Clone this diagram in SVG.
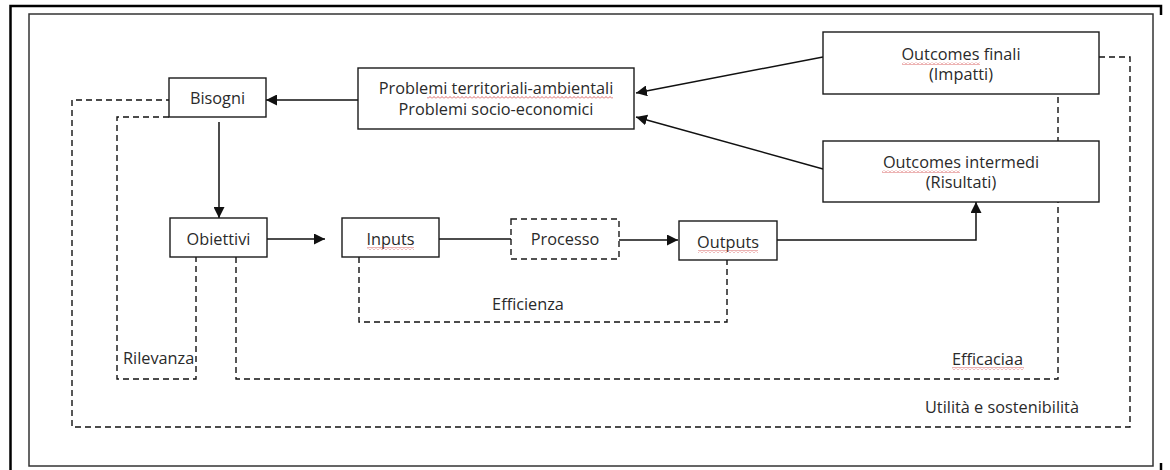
<svg xmlns="http://www.w3.org/2000/svg" width="1170" height="470" viewBox="0 0 1170 470">
<style>
.box{fill:#fff;stroke:#1a1a1a;stroke-width:1.4}
.dbox{fill:#fff;stroke:#1a1a1a;stroke-width:1.4;stroke-dasharray:6 4}
.ln{fill:none;stroke:#111;stroke-width:1.5}
.dl{fill:none;stroke:#111;stroke-width:1.4;stroke-dasharray:6 4}
text{font-family:"Open Sans","Liberation Sans",sans-serif;font-size:16.3px;fill:#2a2a2a}
.c{text-anchor:middle}
.sq{fill:url(#squig)}
</style>
<defs>
<marker id="ah" viewBox="0 0 10 10" refX="10" refY="5" markerWidth="11" markerHeight="11" markerUnits="userSpaceOnUse" orient="auto">
<path d="M0,0 L10,5 L0,10 z" fill="#111"/>
</marker>
<pattern id="squig" patternUnits="userSpaceOnUse" width="4" height="3">
<path d="M0,2.5 L2,0.5 L4,2.5" fill="none" stroke="#d04040" stroke-width="0.8"/>
</pattern>
</defs>
<rect width="1170" height="470" fill="#fff"/>
<g id="frame">
<path d="M10.5,470 V6 H1161 V15" fill="none" stroke="#000" stroke-width="2.5"/>
<path d="M1161,463 V470" fill="none" stroke="#000" stroke-width="2.5"/>
<rect x="29" y="14" width="1124" height="452" fill="none" stroke="#333" stroke-width="1.5"/>
</g>
<g id="connectors">
<path class="ln" d="M358,100 H266" marker-end="url(#ah)"/>
<path class="ln" d="M219,122 V218" marker-end="url(#ah)"/>
<path class="ln" d="M267,239 H325" marker-end="url(#ah)"/>
<path class="ln" d="M439,239 H511"/>
<path class="ln" d="M619,240 H678" marker-end="url(#ah)"/>
<path class="ln" d="M777,240 H976 V202" marker-end="url(#ah)"/>
<path class="ln" d="M823,57 L636,93" marker-end="url(#ah)"/>
<path class="ln" d="M823,169 L636,117" marker-end="url(#ah)"/>
<path class="dl" d="M1099,57 H1130 V427 H72 V100 H169"/>
<path class="dl" d="M169,117 H117 V379 H196 V257"/>
<path class="dl" d="M236,257 V379 H1058 V94"/>
<path class="dl" d="M359,257 V322 H727 V260"/>
</g>
<g id="bisogni">
<rect class="box" x="169" y="78" width="97" height="39"/>
<text class="c" x="217.5" y="104">Bisogni</text>
</g>
<g id="problemi">
<rect class="box" x="358" y="68" width="276" height="61"/>
<text class="c" x="496" y="94">Problemi territoriali-ambientali</text>
<text class="c" x="496" y="115">Problemi socio-economici</text>
<rect class="sq" x="427" y="96" width="186" height="3"/>
</g>
<g id="outcomes-finali">
<rect class="box" x="823" y="32" width="276" height="62"/>
<text class="c" x="961" y="60">Outcomes finali</text>
<text class="c" x="961" y="80">(Impatti)</text>
<rect class="sq" x="902" y="62" width="78" height="3"/>
</g>
<g id="outcomes-intermedi">
<rect class="box" x="823" y="141" width="276" height="61"/>
<text class="c" x="961" y="168">Outcomes intermedi</text>
<text class="c" x="961" y="188">(Risultati)</text>
<rect class="sq" x="882" y="170" width="78" height="3"/>
</g>
<g id="obiettivi">
<rect class="box" x="170" y="218" width="97" height="39"/>
<text class="c" x="218.5" y="245">Obiettivi</text>
</g>
<g id="inputs">
<rect class="box" x="342" y="218" width="97" height="39"/>
<text class="c" x="390.5" y="245">Inputs</text>
<rect class="sq" x="367" y="247" width="47" height="3"/>
</g>
<g id="processo">
<rect class="dbox" x="511" y="219" width="108" height="40"/>
<text class="c" x="565" y="245">Processo</text>
</g>
<g id="outputs">
<rect class="box" x="679" y="221" width="98" height="39"/>
<text class="c" x="728" y="248">Outputs</text>
<rect class="sq" x="698" y="250" width="60" height="3"/>
</g>
<g id="labels">
<text class="c" x="528" y="310">Efficienza</text>
<text x="123" y="364">Rilevanza</text>
<text x="952" y="365">Efficaciaa</text>
<rect class="sq" x="952" y="367" width="72" height="3"/>
<text x="925" y="413">Utilità e sostenibilità</text>
</g>
</svg>
